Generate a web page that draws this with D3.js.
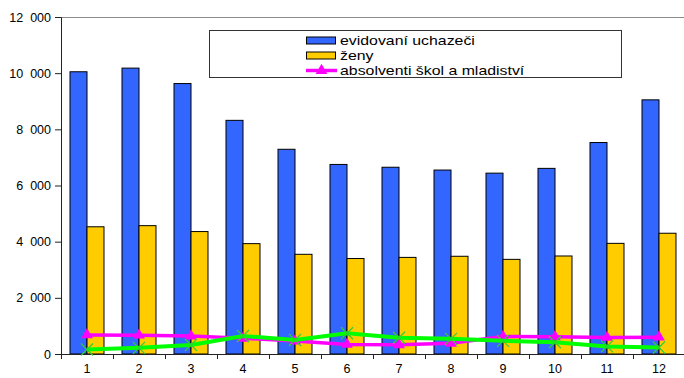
<!DOCTYPE html>
<html>
<head>
<meta charset="utf-8">
<script src="https://cdn.jsdelivr.net/npm/d3@7"></script>
<style>
  body { margin: 0; background: #fff; }
  svg { display: block; font-family: "Liberation Sans", Arial, sans-serif; }
  .axis path, .axis line { stroke: #222; }
  .axis text { fill: #000; font-size: 12.5px; }
</style>
</head>
<body>
<svg id="chart"></svg>
<script>
// hodnoty
const months = ["1", "2", "3", "4", "5", "6", "7", "8", "9", "10", "11", "12"];
const uchazeci = [10050, 10180, 9630, 8320, 7290, 6750, 6650, 6550, 6440, 6610, 7530, 9050];
const zeny = [4530, 4570, 4360, 3930, 3550, 3400, 3440, 3480, 3370, 3490, 3940, 4300];
const absolventi = [680, 670, 640, 560, 460, 340, 330, 380, 620, 610, 590, 600];
const dalsi = [160, 220, 320, 640, 500, 740, 580, 540, 470, 420, 270, 230];
const yTicks = [0, 2000, 4000, 6000, 8000, 10000, 12000];
const legendNames = ["evidovaní uchazeči", "ženy", "absolventi škol a mladiství"];

class ComboChart {
  constructor(config) {
    this.config = {
      parent: config.parent,
      width: config.width || 684,
      height: config.height || 378,
      margin: config.margin || { top: 17, right: -1, bottom: 24, left: 61 }
    };
    this.init();
  }

  init() {
    let self = this;
    const m = self.config.margin;

    self.svg = d3.select(self.config.parent)
      .attr('width', self.config.width)
      .attr('height', self.config.height);

    self.inner_width = self.config.width - m.left - m.right;
    self.inner_height = self.config.height - m.top - m.bottom;

    self.chart = self.svg.append('g')
      .attr('transform', `translate(${m.left}, ${m.top})`);

    self.xscale = d3.scaleBand().domain(months).range([0, self.inner_width]);
    self.xsub = d3.scaleBand().domain(["u", "z"])
      .range([0, self.xscale.bandwidth()]).paddingOuter(0.53);
    self.yscale = d3.scaleLinear().domain([0, 12000]).range([self.inner_height, 0]);

    self.fmt = d3.formatLocale({ decimal: ",", thousands: "\u2007", grouping: [3], currency: ["", ""] }).format(",d");

    self.render();
  }

  render() {
    let self = this;

    // horni okraj plochy grafu
    self.chart.append('line')
      .attr('x1', 0).attr('x2', self.inner_width + 2)
      .attr('y1', 0.5).attr('y2', 0.5)
      .attr('stroke', '#8a8a8a');

    // sloupce
    const groups = self.chart.selectAll('.grp')
      .data(months)
      .join('g')
      .attr('class', 'grp')
      .attr('transform', d => `translate(${self.xscale(d)},0)`);

    groups.append('rect')
      .attr('x', self.xsub('u'))
      .attr('y', (d, i) => self.yscale(uchazeci[i]))
      .attr('width', self.xsub.bandwidth())
      .attr('height', (d, i) => self.inner_height - self.yscale(uchazeci[i]))
      .attr('fill', '#3366ff').attr('stroke', '#000').attr('stroke-width', 1);

    groups.append('rect')
      .attr('x', self.xsub('z'))
      .attr('y', (d, i) => self.yscale(zeny[i]))
      .attr('width', self.xsub.bandwidth())
      .attr('height', (d, i) => self.inner_height - self.yscale(zeny[i]))
      .attr('fill', '#ffcc00').attr('stroke', '#000').attr('stroke-width', 1);

    // osy
    self.chart.append('g')
      .attr('class', 'axis')
      .call(d3.axisLeft(self.yscale).tickValues(yTicks).tickFormat(self.fmt)
        .tickSizeOuter(0).tickSize(6).tickPadding(4));

    const xaxis = self.chart.append('g')
      .attr('class', 'axis')
      .attr('transform', `translate(0, ${self.inner_height})`)
      .call(d3.axisBottom(self.xscale).tickSize(0).tickSizeOuter(0).tickPadding(10));
    xaxis.select('.domain').attr('d', `M-5,0.5H${self.inner_width}`);
    xaxis.selectAll('.bnd')
      .data(months)
      .join('line')
      .attr('class', 'bnd')
      .attr('x1', d => self.xscale(d) + 0.5).attr('x2', d => self.xscale(d) + 0.5)
      .attr('y1', 0).attr('y2', 5)
      .attr('stroke', '#222');

    // cary
    const cx = (d, i) => self.xscale(months[i]) + self.xscale.bandwidth() / 2;
    const line = d3.line().x(cx).y(d => self.yscale(d));

    self.chart.append('path')
      .attr('d', line(absolventi))
      .attr('fill', 'none').attr('stroke', '#ff00ff').attr('stroke-width', 3.5);

    self.chart.selectAll('.tri')
      .data(absolventi)
      .join('path')
      .attr('class', 'tri')
      .attr('d', d3.symbol(d3.symbolTriangle, 60))
      .attr('transform', (d, i) => `translate(${cx(d, i)},${self.yscale(d)})`)
      .attr('fill', '#ff00ff');

    self.chart.append('path')
      .attr('d', line(dalsi))
      .attr('fill', 'none').attr('stroke', '#00ff00').attr('stroke-width', 4);

    self.chart.selectAll('.cross')
      .data(dalsi)
      .join('path')
      .attr('class', 'cross')
      .attr('d', 'M-6,-6L6,6M-6,6L6,-6')
      .attr('transform', (d, i) => `translate(${cx(d, i)},${self.yscale(d)})`)
      .attr('fill', 'none').attr('stroke', '#33cc33').attr('stroke-width', 1.2);

    // legenda
    const lg = self.svg.append('g');
    lg.append('rect')
      .attr('x', 209.5).attr('y', 30.5).attr('width', 412).attr('height', 47)
      .attr('fill', '#fff').attr('stroke', '#333');

    const colors = ['#3366ff', '#ffcc00', '#ff00ff'];
    legendNames.forEach((name, i) => {
      const yc = 40.5 + i * 15;
      if (i < 2) {
        lg.append('rect')
          .attr('x', 306.5).attr('y', yc - 3.5).attr('width', 29).attr('height', 7)
          .attr('fill', colors[i]).attr('stroke', '#000').attr('stroke-width', 1);
      } else {
        lg.append('line')
          .attr('x1', 306).attr('x2', 337).attr('y1', yc).attr('y2', yc)
          .attr('stroke', colors[i]).attr('stroke-width', 3.5);
        lg.append('path')
          .attr('d', d3.symbol(d3.symbolTriangle, 60))
          .attr('transform', `translate(321.5,${yc})`)
          .attr('fill', colors[i]);
      }
      lg.append('text')
        .attr('transform', `translate(340,${yc + 4.5}) scale(1.22,1)`)
        .style('font-size', '13px')
        .attr('fill', '#000')
        .text(name);
    });
  }
}

new ComboChart({ parent: '#chart' });
</script>
</body>
</html>
